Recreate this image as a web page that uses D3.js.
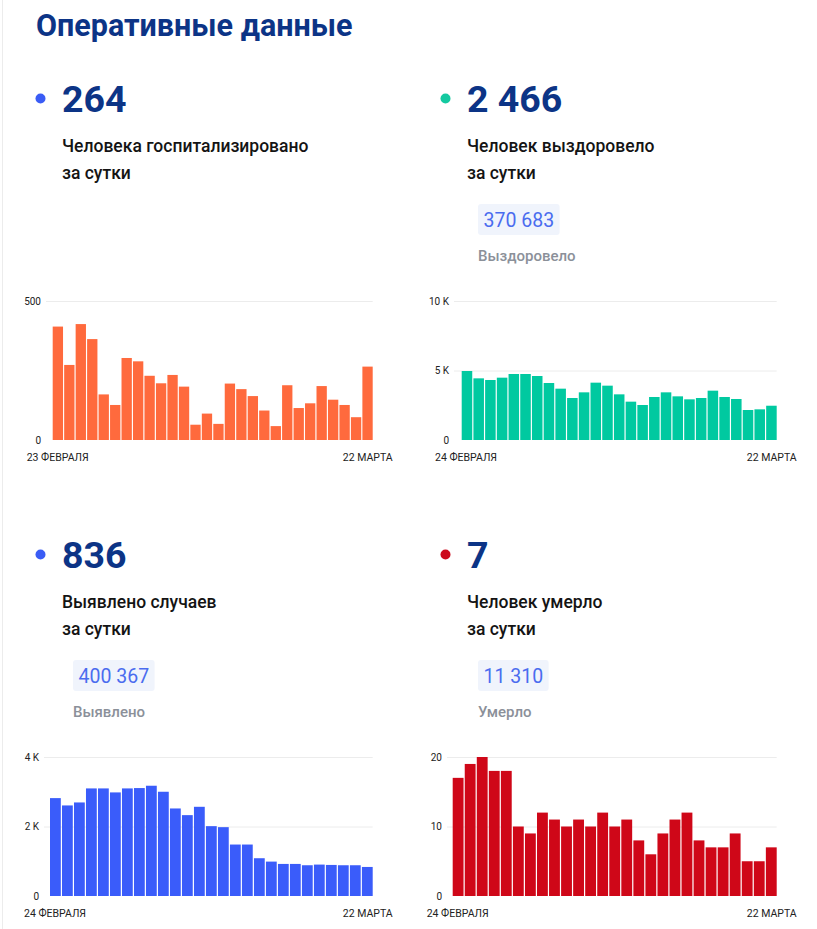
<!DOCTYPE html>
<html>
<head>
<meta charset="utf-8">
<script src="https://cdn.jsdelivr.net/npm/d3@7/dist/d3.min.js"></script>
<style>
  html, body { margin: 0; padding: 0; background: #fff; }
  svg { display: block; font-family: Roboto, "Noto Sans", sans-serif; }
</style>
</head>
<body>
<svg id="chart" width="817" height="929"></svg>
<script>
// ---------- DATA ----------
const title = "Оперативные данные";

const hospitalized = [408, 270, 417, 363, 164, 126, 295, 283, 231, 204, 234, 192, 55, 95, 58, 203, 183, 158, 106, 50, 197, 115, 132, 194, 145, 126, 82, 264];
const recovered = [4964, 4436, 4317, 4484, 4748, 4748, 4604, 4101, 3693, 3022, 3429, 4125, 3909, 3285, 2758, 2518, 3094, 3429, 3141, 2926, 3022, 3549, 3094, 2950, 2158, 2206, 2466];
const cases = [2817, 2606, 2692, 3096, 3096, 2981, 3096, 3106, 3173, 3000, 2519, 2327, 2567, 2010, 1981, 1481, 1481, 1087, 990, 923, 923, 885, 904, 894, 885, 885, 836];
const deaths = [17, 19, 20, 18, 18, 10, 9, 12, 11, 10, 11, 10, 12, 10, 11, 8, 6, 9, 11, 12, 8, 7, 7, 9, 5, 5, 7];

const hospTicks = [0, 500];
const recTicks = [0, 5000, 10000];
const casesTicks = [0, 2000, 4000];
const deathTicks = [0, 10, 20];

const hospDates = ["23 ФЕВРАЛЯ", "22 МАРТА"];
const recDates = ["24 ФЕВРАЛЯ", "22 МАРТА"];
const casesDates = ["24 ФЕВРАЛЯ", "22 МАРТА"];
const deathDates = ["24 ФЕВРАЛЯ", "22 МАРТА"];

const headlines = ["264", "2 466", "836", "7"];
const descriptions = [
  ["Человека госпитализировано", "за сутки"],
  ["Человек выздоровело", "за сутки"],
  ["Выявлено случаев", "за сутки"],
  ["Человек умерло", "за сутки"]
];
const totals = [null, "370 683", "400 367", "11 310"];
const totalLabels = [null, "Выздоровело", "Выявлено", "Умерло"];

// ---------- LAYOUT / STYLE ----------
const svg = d3.select("#chart");
const DARK = "#0c3486";
const panels = [
  { ox: 0,   oy: 0,   data: hospitalized, ticks: hospTicks, dates: hospDates, color: "#ff6a3d", dot: "#3a5cf5", left: 52.7, right: 372.7, labRight: 41, dateL: 26.7, dateR: 392.7 },
  { ox: 405, oy: 0,   data: recovered,    ticks: recTicks,  dates: recDates,  color: "#00c9a0", dot: "#14c9a0", left: 461.7, right: 776.7, labRight: 449, dateL: 435, dateR: 796.7 },
  { ox: 0,   oy: 456, data: cases,        ticks: casesTicks, dates: casesDates, color: "#3a5cfa", dot: "#3a5cf5", left: 50, right: 372.7, labRight: 39, dateL: 24, dateR: 392.7 },
  { ox: 405, oy: 456, data: deaths,       ticks: deathTicks, dates: deathDates, color: "#cf0718", dot: "#cc0a1c", left: 452.7, right: 776.7, labRight: 442, dateL: 426.7, dateR: 796.7 }
];

// faint left edge line
svg.append("line").attr("x1", 2.5).attr("x2", 2.5).attr("y1", 0).attr("y2", 929)
  .attr("stroke", "#ececec").attr("stroke-width", 1);

// title
svg.append("text").attr("x", 36).attr("y", 35.5)
  .attr("font-size", 30.5).attr("font-weight", 700).attr("fill", DARK)
  .text(title);

const fmt = d => d >= 1000 ? (d / 1000) + " K" : String(d);

panels.forEach((p, i) => {
  const g = svg.append("g");
  // dot
  g.append("circle").attr("cx", 40.5 + p.ox).attr("cy", 98.5 + p.oy).attr("r", 5).attr("fill", p.dot);
  // headline number
  g.append("text").attr("x", 62 + p.ox).attr("y", 112 + p.oy)
    .attr("font-size", 37.5).attr("font-weight", 700).attr("fill", DARK)
    .text(headlines[i]);
  // description
  descriptions[i].forEach((line, k) => {
    g.append("text").attr("x", 62 + p.ox).attr("y", 152 + k * 27 + p.oy)
      .attr("font-size", 17.5).attr("font-weight", 500).attr("fill", "#141414")
      .text(line);
  });
  // totals box
  if (totals[i]) {
    const bx = 73 + p.ox, by = 204 + p.oy;
    const t = g.append("text").attr("x", bx + 5.5).attr("y", by + 22.5)
      .attr("font-size", 19.5).attr("font-weight", 400).attr("fill", "#4a6cef")
      .text(totals[i]);
    const w = t.node().getComputedTextLength();
    g.insert("rect", "text").attr("x", bx).attr("y", by).attr("width", w + 11).attr("height", 31)
      .attr("rx", 3).attr("fill", "#f0f4fc");
    g.append("text").attr("x", bx).attr("y", 261 + p.oy)
      .attr("font-size", 15).attr("font-weight", 500).attr("fill", "#8b9099")
      .text(totalLabels[i]);
  }

  // chart
  const y0 = 440 + p.oy, y1 = 301 + p.oy;
  const y = d3.scaleLinear().domain([0, d3.max(p.ticks)]).range([y0, y1]);
  const x = d3.scaleBand().domain(d3.range(p.data.length)).range([p.left, p.right]).paddingInner(0.1).paddingOuter(0);

  // gridlines
  g.append("g").selectAll("line").data(p.ticks.filter(d => d > 0)).join("line")
    .attr("x1", p.labRight + 5).attr("x2", p.right)
    .attr("y1", d => y(d) + 0.5).attr("y2", d => y(d) + 0.5)
    .attr("stroke", "#ececec").attr("stroke-width", 1);

  // y axis labels via d3 axis
  const axis = d3.axisLeft(y).tickValues(p.ticks).tickFormat(fmt).tickSize(0).tickPadding(0);
  const ag = g.append("g").attr("transform", `translate(${p.labRight},0)`).call(axis);
  ag.select(".domain").remove();
  ag.selectAll("text").attr("font-size", 10).attr("fill", "#222").attr("font-family", "Roboto, sans-serif");

  // bars
  g.append("g").selectAll("rect").data(p.data).join("rect")
    .attr("x", (d, j) => x(j)).attr("width", x.bandwidth())
    .attr("y", d => y(d)).attr("height", d => y0 - y(d))
    .attr("fill", p.color);

  // date labels
  g.append("text").attr("x", p.dateL).attr("y", 460.7 + p.oy)
    .attr("font-size", 10.5).attr("fill", "#222").text(p.dates[0]);
  g.append("text").attr("x", p.dateR).attr("y", 460.7 + p.oy).attr("text-anchor", "end")
    .attr("font-size", 10.5).attr("fill", "#222").text(p.dates[1]);
});
</script>
</body>
</html>
